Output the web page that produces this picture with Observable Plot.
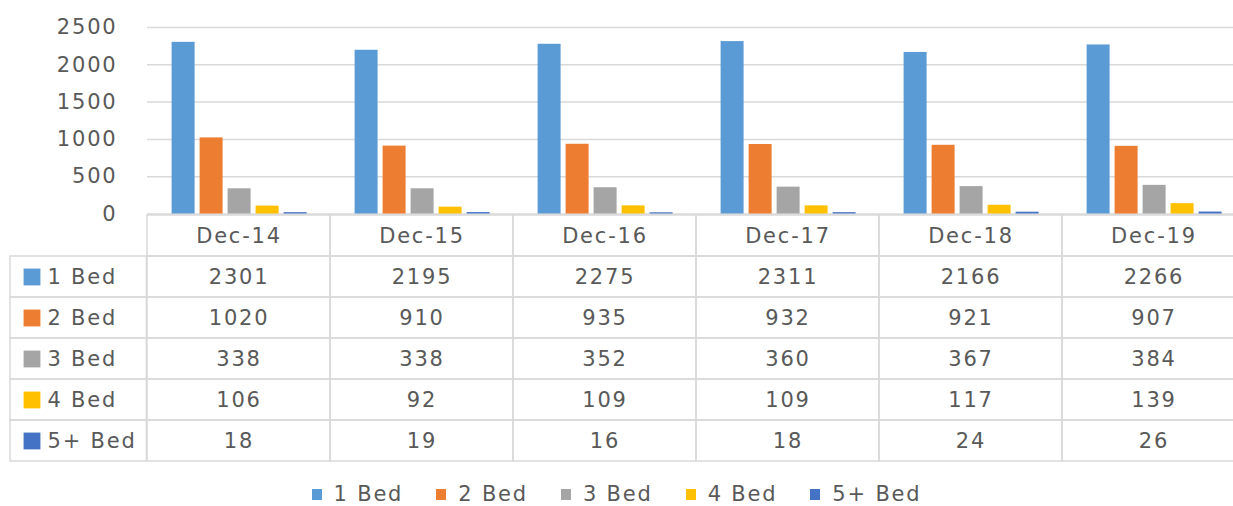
<!DOCTYPE html>
<html>
<head>
<meta charset="utf-8">
<script src="https://cdn.jsdelivr.net/npm/d3@7"></script>
<script src="https://cdn.jsdelivr.net/npm/@observablehq/plot@0.6"></script>
<style>
  html, body { margin: 0; padding: 0; background: #fff; }
  #wrap { width: 1233px; height: 506px; overflow: hidden; font-family: "DejaVu Sans", sans-serif; color: #595959; }
  #table { display: flex; flex-direction: row; width: 1246px; }
  svg { display: block; flex-shrink: 0; }
  #legend { width: 1233px; height: 44px; box-sizing: border-box; padding-top: 21px; display: flex; justify-content: center; gap: 33px; font-size: 21px; line-height: 21px; letter-spacing: 1.8px; padding-left: 0px; }
  #legend .item { display: flex; align-items: center; gap: 12px; white-space: nowrap; }
  #legend .sw { width: 10px; height: 11px; display: inline-block; }
</style>
</head>
<body>
<div id="wrap">
  <div id="bars"></div>
  <div id="table"></div>
  <div id="legend"></div>
</div>
<script>
const categories = ["Dec-14", "Dec-15", "Dec-16", "Dec-17", "Dec-18", "Dec-19"];
const series = ["1 Bed", "2 Bed", "3 Bed", "4 Bed", "5+ Bed"];
const bed1 = [2301, 2195, 2275, 2311, 2166, 2266];
const bed2 = [1020, 910, 935, 932, 921, 907];
const bed3 = [338, 338, 352, 360, 367, 384];
const bed4 = [106, 92, 109, 109, 117, 139];
const bed5 = [18, 19, 16, 18, 24, 26];
const colors = ["#5b9bd5", "#ed7d31", "#a5a5a5", "#ffc000", "#4472c4"];
const yTicks = [0, 500, 1000, 1500, 2000, 2500];

const values = [bed1, bed2, bed3, bed4, bed5];
const data = [];
series.forEach((s, si) => categories.forEach((c, ci) => data.push({category: c, series: s, value: values[si][ci]})));

const totalWidth = 1246;
const labelCol = 146.4;
const gridColor = "#d9d9d9";
const baseStyle = {fontFamily: "DejaVu Sans, sans-serif", fontSize: "21px", color: "#595959", letterSpacing: "1.8px", background: "transparent", maxWidth: "none", overflow: "visible"};

// Bar chart
const bars = Plot.plot({
  width: totalWidth,
  height: 214,
  marginLeft: labelCol,
  marginRight: 0,
  marginTop: 27,
  marginBottom: 0.5,
  style: baseStyle,
  fx: {domain: categories, padding: 0, axis: null, label: null},
  x: {domain: series, paddingInner: 0.19, paddingOuter: 0.785, axis: null},
  y: {domain: [0, 2500], axis: null},
  color: {domain: series, range: colors},
  marks: [
    Plot.gridY(yTicks, {stroke: gridColor, strokeOpacity: 1, strokeWidth: 1.5}),
    Plot.axisY(yTicks, {tickSize: 0, tickPadding: 30, label: null, tickFormat: d => String(d)}),
    Plot.barY(data, {fx: "category", x: "series", y: "value", fill: "series"})
  ]
});
document.getElementById("bars").appendChild(bars);

// Data table
const headerKey = "header";
const rows = [headerKey, ...series];
const tableHeight = 248;

const left = Plot.plot({
  width: labelCol,
  height: tableHeight,
  marginLeft: 10,
  marginRight: 0,
  marginTop: 0.5,
  marginBottom: 1.5,
  style: baseStyle,
  y: {domain: rows, padding: 0, axis: null},
  color: {domain: series, range: colors},
  marks: [
    Plot.cell(series, {y: d => d, fill: "none", stroke: gridColor, strokeWidth: 1.5}),
    Plot.dot(series, {y: d => d, frameAnchor: "left", dx: 21.5, symbol: "square", r: 9.5, fill: d => d}),
    Plot.text(series, {y: d => d, text: d => d, frameAnchor: "left", dx: 37, textAnchor: "start", fill: "#595959"})
  ]
});

const right = Plot.plot({
  width: totalWidth - labelCol,
  height: tableHeight,
  marginLeft: 0.5,
  marginRight: 0,
  marginTop: 0.5,
  marginBottom: 1.5,
  style: baseStyle,
  x: {domain: categories, padding: 0, axis: null},
  y: {domain: rows, padding: 0, axis: null},
  marks: [
    Plot.cell(data.concat(categories.map(c => ({category: c, series: headerKey}))), {x: "category", y: "series", fill: "none", stroke: gridColor, strokeWidth: 1.5}),
    Plot.text(categories, {x: d => d, y: () => headerKey, text: d => d, fill: "#595959"}),
    Plot.text(data, {x: "category", y: "series", text: d => String(d.value), fill: "#595959"})
  ]
});
const tbl = document.getElementById("table");
tbl.appendChild(left);
tbl.appendChild(right);

// Legend
const legend = document.getElementById("legend");
series.forEach((s, i) => {
  const item = document.createElement("div");
  item.className = "item";
  const sw = document.createElement("span");
  sw.className = "sw";
  sw.style.background = colors[i];
  const t = document.createElement("span");
  t.textContent = s;
  item.appendChild(sw);
  item.appendChild(t);
  legend.appendChild(item);
});
</script>
</body>
</html>
